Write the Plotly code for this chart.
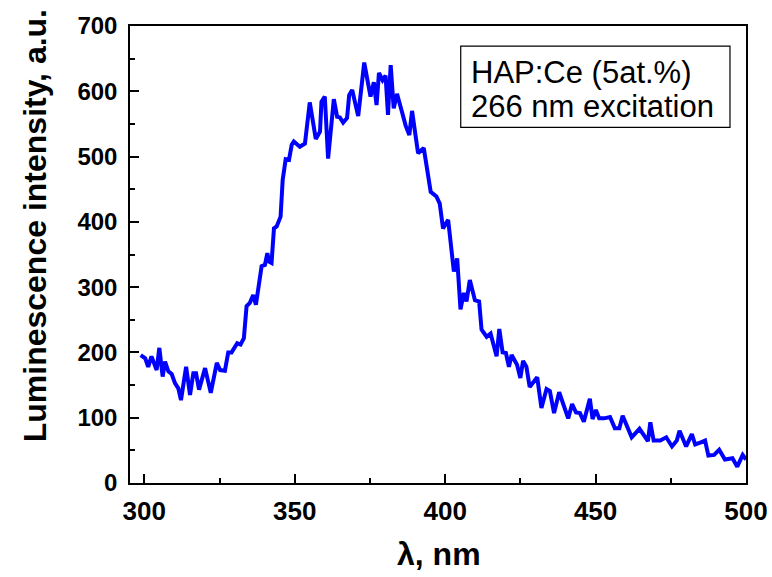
import plotly.graph_objects as go

wavelength = [298.8, 300.3, 301.3, 302.4, 304.1, 305.0, 306.1, 306.9, 308.0, 309.1, 310.2, 311.3, 312.2,
              313.9, 315.2, 316.3, 317.2, 318.2, 320.2, 322.1, 324.1, 325.2, 326.8, 327.9, 329.0, 330.9,
              332.0, 333.1, 334.0, 335.1, 336.2, 337.1, 339.0, 340.1, 340.9, 341.5, 342.3, 343.1, 344.0,
              345.3, 346.0, 347.0, 348.1, 349.0, 349.7, 351.7, 353.4, 355.0, 357.0, 358.4, 358.9, 360.0,
              361.1, 363.0, 364.1, 365.0, 366.1, 367.4, 368.1, 369.1, 371.1, 373.1, 375.2, 376.3, 377.2,
              378.0, 379.2, 380.2, 381.0, 381.9, 382.9, 384.0, 385.5, 386.9, 388.1, 389.0, 391.0, 392.9,
              395.2, 397.1, 398.2, 399.3, 401.0, 402.9, 404.0, 405.1, 406.2, 407.1, 408.2, 409.9, 411.3,
              412.1, 413.8, 415.1, 417.1, 418.0, 419.1, 420.2, 421.2, 422.1, 423.9, 425.0, 425.9, 427.0,
              428.1, 430.6, 432.0, 433.7, 434.8, 436.2, 437.9, 439.5, 440.9, 442.2, 443.5, 444.8, 446.1,
              448.1, 449.0, 450.1, 451.2, 452.8, 454.8, 456.4, 457.9, 459.0, 460.4, 462.0, 464.6, 465.9,
              467.4, 468.2, 469.3, 471.5, 473.5, 475.4, 477.0, 477.9, 480.1, 482.0, 483.1, 484.8, 486.4,
              487.5, 489.4, 491.1, 493.0, 495.5, 497.1, 498.9, 500.0]
intensity = [196, 191, 178, 194, 173, 207, 163, 186, 171, 167, 153, 145, 127,
             178, 135, 168, 168, 143, 176, 138, 184, 173, 172, 200, 200, 214,
             212, 222, 271, 276, 288, 273, 332, 334, 352, 339, 337, 390, 393,
             408, 464, 496, 495, 518, 523, 515, 520, 583, 527, 538, 584, 592,
             497, 588, 561, 560, 552, 559, 594, 602, 562, 644, 592, 614, 579,
             628, 617, 624, 564, 640, 574, 596, 571, 547, 533, 570, 505, 513,
             446, 439, 428, 390, 403, 324, 344, 266, 291, 278, 311, 280, 278,
             235, 224, 229, 194, 236, 200, 199, 178, 196, 181, 161, 187, 178,
             147, 162, 115, 144, 141, 107, 139, 117, 99, 121, 108, 107, 94,
             129, 98, 112, 99, 99, 101, 84, 84, 103, 89, 70, 83, 75,
             64, 93, 65, 65, 70, 56, 65, 80, 56, 75, 59, 62, 65,
             42, 43, 51, 36, 38, 25, 43, 36]

x_ticks = [300, 350, 400, 450, 500]
y_ticks = [0, 100, 200, 300, 400, 500, 600, 700]
legend_lines = ["HAP:Ce (5at.%)", "266 nm excitation"]

FONT = "Liberation Sans, Arial, sans-serif"

fig = go.Figure()
fig.add_trace(go.Scatter(x=wavelength, y=intensity, mode="lines",
                         line=dict(color="#0000FF", width=4), showlegend=False))

fig.update_layout(
    width=772, height=577,
    margin=dict(l=130, r=26, t=26, b=94),
    paper_bgcolor="white", plot_bgcolor="white",
    font=dict(family=FONT, color="black"),
)

fig.update_xaxes(
    range=[295.25, 500], tickvals=x_ticks, ticktext=[str(v) for v in x_ticks],
    ticks="inside", ticklen=9, tickwidth=1.5, tickcolor="black",
    minor=dict(dtick=25, tick0=300, ticks="inside", ticklen=5, tickwidth=1.5, tickcolor="black"),
    showline=True, linecolor="black", linewidth=1.5, mirror=True,
    showgrid=False, zeroline=False, automargin=False,
    tickfont=dict(family=FONT, size=26, weight="bold", color="black"),
    ticklabelstandoff=4,
)
fig.update_yaxes(
    range=[0, 700], tickvals=y_ticks, ticktext=[str(v) for v in y_ticks],
    ticks="inside", ticklen=9, tickwidth=1.5, tickcolor="black",
    minor=dict(dtick=50, tick0=0, ticks="inside", ticklen=5, tickwidth=1.5, tickcolor="black"),
    showline=True, linecolor="black", linewidth=1.5, mirror=True,
    showgrid=False, zeroline=False, automargin=False,
    tickfont=dict(family=FONT, size=24, weight="bold", color="black"),
    ticklabelstandoff=6,
)

# axis titles
fig.add_annotation(text="Luminescence intensity, a.u.", xref="paper", yref="paper",
                   x=-0.154, y=0.562, textangle=-90, showarrow=False,
                   xanchor="center", yanchor="middle",
                   font=dict(family=FONT, size=32, weight="bold", color="black"))
fig.add_annotation(text="λ, nm", xref="paper", yref="paper",
                   x=0.5016, y=-0.1545, showarrow=False,
                   xanchor="center", yanchor="middle",
                   font=dict(family=FONT, size=32, weight="bold", color="black"))

# legend box
fig.add_shape(type="rect", xref="paper", yref="paper",
              x0=0.5369, x1=0.974, y0=0.778, y1=0.956,
              line=dict(color="black", width=1.2), fillcolor="white")
for txt, yy in zip(legend_lines, [0.899, 0.8246]):
    fig.add_annotation(text=txt, xref="paper", yref="paper", x=0.551, y=yy,
                       showarrow=False, xanchor="left", yanchor="middle",
                       font=dict(family=FONT, size=31, color="black"))

fig.write_html("out.html")
